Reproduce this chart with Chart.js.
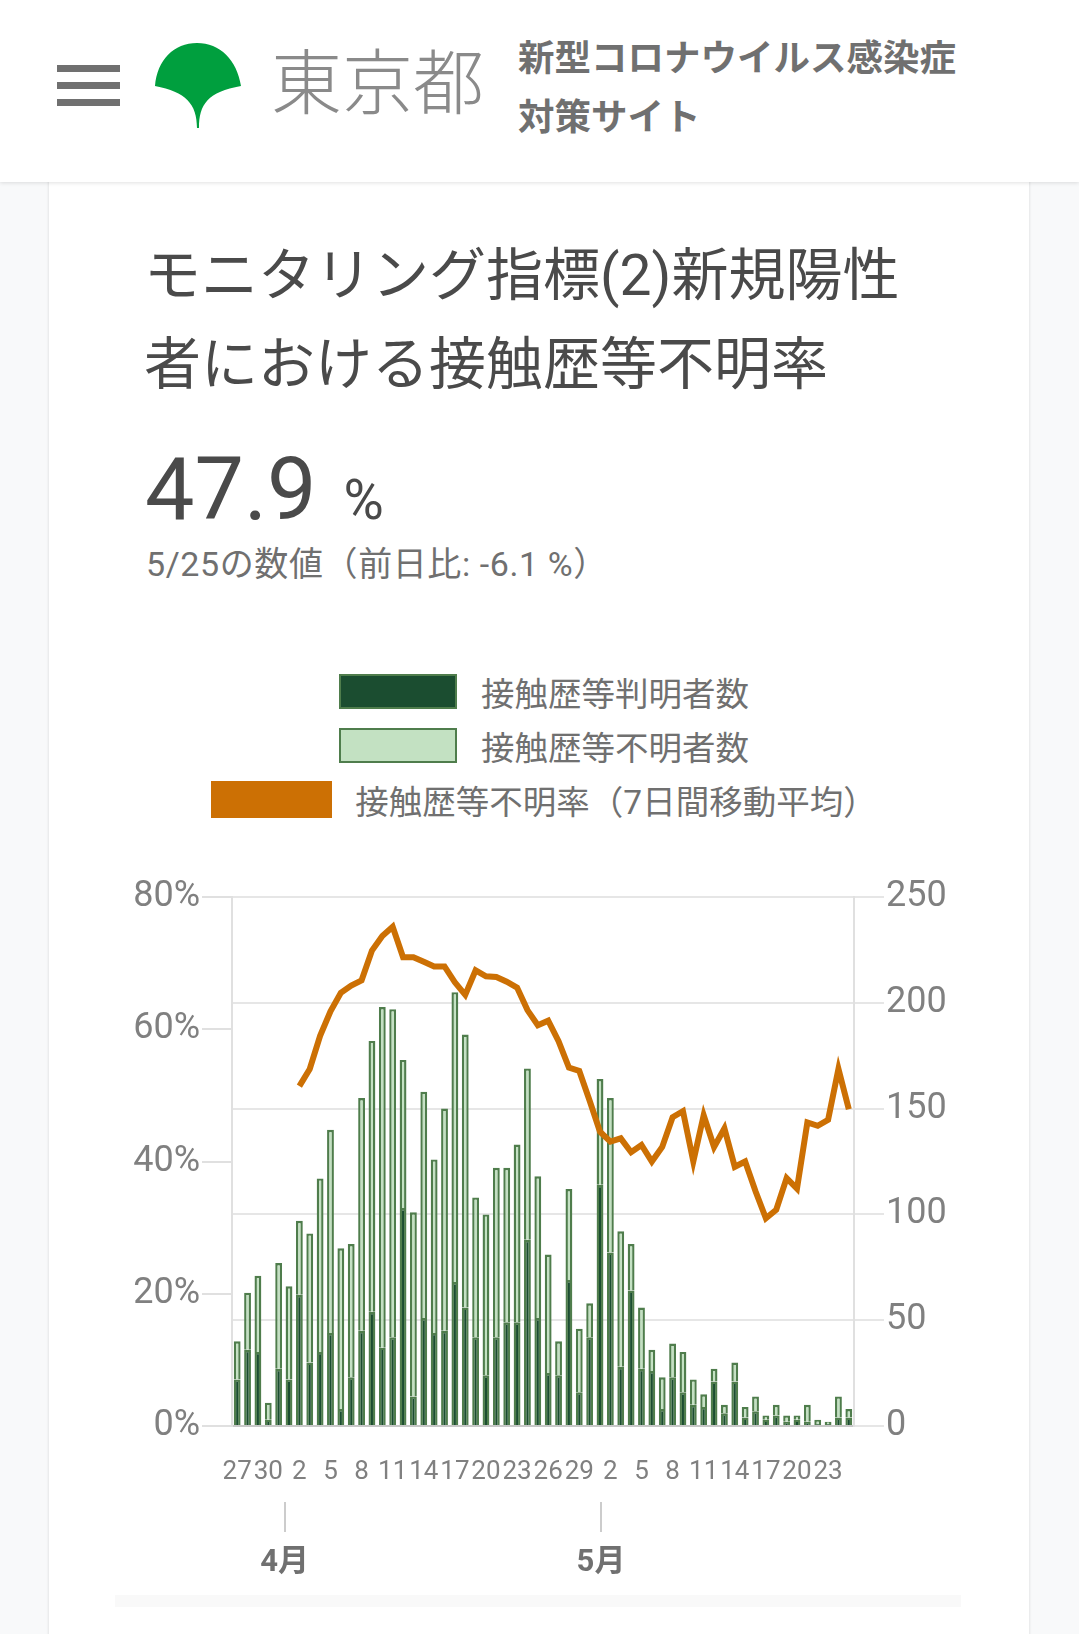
<!DOCTYPE html>
<html lang="ja">
<head>
<meta charset="UTF-8">
<meta name="viewport" content="width=device-width, initial-scale=1.0">
<title>モニタリング指標(2)新規陽性者における接触歴等不明率</title>
<script src="https://cdn.jsdelivr.net/npm/chart.js"></script>
<style>
    html, body { margin: 0; padding: 0; }
    body {
        width: 1079px; height: 1634px; position: relative; overflow: hidden;
        background: #f8f9fa;
        font-family: Roboto, 'Noto Sans CJK JP', sans-serif;
    }
    .header {
        position: absolute; left: 0; top: 0; width: 1079px; height: 182px;
        background: #fff; box-shadow: 0 1px 4px rgba(0,0,0,0.12); z-index: 2;
    }
    .menu span { position: absolute; left: 57px; width: 63px; height: 7px; background: #707070; }
    .logo { position: absolute; left: 150px; top: 38px; }
    .tokyo {
        position: absolute; left: 271px; top: 42px; font-size: 71px; line-height: 70px;
        font-weight: 300; color: #8a8a8a; font-family: 'Noto Sans CJK JP', sans-serif;
        white-space: nowrap;
    }
    .site {
        position: absolute; left: 518px; top: 27px; font-size: 36.5px; line-height: 58.5px;
        font-weight: bold; color: #707070; font-family: 'Noto Sans CJK JP', sans-serif;
        white-space: nowrap;
    }
    .card {
        position: absolute; left: 49px; top: 120px; width: 980px; height: 1600px;
        background: #fff; box-shadow: 0 0 3px rgba(0,0,0,0.14);
    }
    .title {
        position: absolute; left: 144px; top: 231px; font-size: 57px; line-height: 89px;
        color: #4a4a4a; white-space: nowrap;
    }
    .value {
        position: absolute; left: 145px; top: 445px; font-size: 88px; line-height: 88px;
        color: #4a4a4a; white-space: nowrap;
    }
    .value .unit { font-size: 55px; line-height: 1; margin-left: 27px; }
    .sub {
        position: absolute; left: 146px; top: 544px; font-size: 34px; line-height: 40px;
        letter-spacing: 0.6px; color: #707070; white-space: nowrap;
    }
    .legend { position: absolute; left: 54px; top: 664px; width: 980px; }
    .legend .row {
        height: 54px; display: flex; align-items: center; justify-content: center;
        font-size: 33.5px; color: #707070; white-space: nowrap;
    }
    .legend .box { box-sizing: border-box; width: 118px; height: 35px; margin-right: 24px; }
    .legend .row.line .box { width: 121px; height: 37px; margin-right: 23px; }
    .chart-box { position: absolute; left: 110px; top: 860px; width: 860px; height: 730px; }
    .band { position: absolute; left: 115px; top: 1595px; width: 846px; height: 12px; background: #f9f9f9; }
</style>
</head>
<body>
    <div class="header">
        <div class="menu">
            <span style="top:65px"></span>
            <span style="top:82px"></span>
            <span style="top:99px"></span>
        </div>
        <svg class="logo" width="100" height="100" viewBox="0 0 100 100">
            <path d="M47,90 C47,66 36,54 5,48 C7,22 24,5 47,5 C70,5 87,22 91,48 C58,54 49,66 49,90 Z" fill="#009f3e"/>
        </svg>
        <div class="tokyo">東京都</div>
        <div class="site">新型コロナウイルス感染症<br>対策サイト</div>
    </div>

    <div class="card"></div>
    <div class="title">モニタリング指標(2)新規陽性<br>者における接触歴等不明率</div>
    <div class="value">47.9<span class="unit">%</span></div>
    <div class="sub">5/25の数値（前日比: -6.1 %）</div>

    <div class="legend" id="legend"></div>

    <div class="chart-box">
        <canvas id="rateChart"></canvas>
    </div>
    <div class="band"></div>

    <script>
        // categories: 3/27 - 5/25
        const dateLabels = [
            '3/27', '3/28', '3/29', '3/30', '3/31',
            '4/1', '4/2', '4/3', '4/4', '4/5', '4/6', '4/7', '4/8', '4/9', '4/10',
            '4/11', '4/12', '4/13', '4/14', '4/15', '4/16', '4/17', '4/18', '4/19', '4/20',
            '4/21', '4/22', '4/23', '4/24', '4/25', '4/26', '4/27', '4/28', '4/29', '4/30',
            '5/1', '5/2', '5/3', '5/4', '5/5', '5/6', '5/7', '5/8', '5/9', '5/10',
            '5/11', '5/12', '5/13', '5/14', '5/15', '5/16', '5/17', '5/18', '5/19', '5/20',
            '5/21', '5/22', '5/23', '5/24', '5/25'
        ];

        // 接触歴等判明者数
        const knownCounts = [
            22, 36, 35, 3, 27, 22, 62, 30, 35, 44,
            8, 23, 45, 54, 37, 42, 103, 14, 51, 44,
            45, 68, 56, 42, 24, 42, 49, 49, 88, 51,
            25, 24, 69, 16, 42, 114, 82, 28, 64, 27,
            26, 8, 23, 16, 10, 9, 21, 6, 21, 4,
            7, 3, 5, 2, 3, 2, 1, 1, 4, 4
        ];

        // 接触歴等不明者数
        const unknownCounts = [
            18, 27, 36, 8, 50, 44, 35, 61, 82, 96,
            76, 63, 110, 128, 161, 155, 70, 87, 107, 82,
            105, 137, 129, 66, 76, 80, 73, 84, 81, 67,
            56, 16, 43, 30, 16, 50, 73, 64, 22, 29,
            10, 15, 16, 19, 12, 6, 6, 4, 9, 5,
            7, 2, 5, 3, 2, 8, 2, 1, 10, 4
        ];

        // 接触歴等不明率（7日間移動平均） %
        const unknownRate = [
            null, null, null, null, null, null, 51.4, 54.0, 59.0, 62.7,
            65.5, 66.6, 67.4, 71.9, 74.1, 75.5, 70.9, 70.9, 70.2, 69.5,
            69.5, 67.1, 65.2, 68.9, 68.0, 67.9, 67.2, 66.3, 62.9, 60.6,
            61.3, 58.2, 54.2, 53.7, 49.2, 44.5, 43.0, 43.5, 41.4, 42.5,
            40.0, 42.2, 46.7, 47.6, 40.0, 47.0, 42.2, 45.0, 39.2, 40.0,
            35.5, 31.4, 32.7, 37.5, 35.9, 45.9, 45.4, 46.3, 54.0, 47.9
        ];

        const seriesNames = ['接触歴等判明者数', '接触歴等不明者数', '接触歴等不明率（7日間移動平均）'];
        const monthTicks = [5, 35];
        const monthLabels = ['4月', '5月'];

        Chart.defaults.font.family = "Roboto, 'Noto Sans CJK JP', sans-serif";
        Chart.defaults.color = '#808080';

        const ctx = document.getElementById('rateChart').getContext('2d');
        const chart = new Chart(ctx, {
            type: 'bar',
            data: {
                labels: dateLabels,
                datasets: [
                    {
                        type: 'line',
                        label: seriesNames[2],
                        data: unknownRate,
                        yAxisID: 'y',
                        borderColor: '#cc7004',
                        backgroundColor: '#cc7004',
                        borderWidth: 6,
                        pointRadius: 0,
                        tension: 0,
                        fill: false,
                        order: 0
                    },
                    {
                        label: seriesNames[0],
                        data: knownCounts,
                        yAxisID: 'y1',
                        backgroundColor: '#1b4d30',
                        borderColor: '#4f7d4c',
                        borderWidth: 2.4,
                        stack: 'cases',
                        order: 1
                    },
                    {
                        label: seriesNames[1],
                        data: unknownCounts,
                        yAxisID: 'y1',
                        backgroundColor: '#c3e1c2',
                        borderColor: '#4f7d4c',
                        borderWidth: 2.4,
                        stack: 'cases',
                        order: 1
                    }
                ]
            },
            options: {
                responsive: true,
                maintainAspectRatio: false,
                animation: false,
                layout: { padding: { top: 37, left: 0, right: 0, bottom: 0 } },
                datasets: { bar: { barPercentage: 0.66, categoryPercentage: 1 } },
                plugins: {
                    legend: { display: false },
                    tooltip: { enabled: false }
                },
                scales: {
                    x: {
                        stacked: true,
                        weight: 0,
                        grid: { display: false, drawTicks: false, tickLength: 0 },
                        border: { display: true, color: '#c8c8c8', width: 2 },
                        ticks: {
                            autoSkip: false,
                            maxRotation: 0,
                            padding: 31,
                            font: { size: 26 },
                            color: '#808080',
                            callback: (v, i) => i % 3 === 0 ? dateLabels[i].split('/')[1] : ''
                        },
                        afterFit: s => { s.height = 76; }
                    },
                    x2: {
                        type: 'linear',
                        position: 'bottom',
                        weight: 1,
                        offset: false,
                        min: 0,
                        max: dateLabels.length - 1,
                        grid: { offset: false, drawOnChartArea: false, tickLength: 30, color: '#cccccc', lineWidth: 2 },
                        border: { display: false },
                        afterBuildTicks: s => { s.ticks = monthTicks.map(v => ({ value: v })); },
                        ticks: {
                            padding: 13,
                            font: { size: 31, weight: 'bold' },
                            color: '#707070',
                            callback: v => monthLabels[monthTicks.indexOf(v)]
                        },
                        afterFit: s => { s.height = 88; }
                    },
                    y: {
                        position: 'left',
                        min: 0,
                        max: 80,
                        grid: { drawOnChartArea: false, tickLength: 30, color: '#e0e0e0', lineWidth: 2 },
                        border: { color: '#e0e0e0', width: 2 },
                        ticks: {
                            stepSize: 20,
                            padding: 2,
                            font: { size: 36 },
                            color: '#808080',
                            callback: v => v + '%'
                        },
                        afterFit: s => { s.width = 122; }
                    },
                    y1: {
                        position: 'right',
                        stacked: true,
                        min: 0,
                        max: 250,
                        grid: { tickLength: 30, color: '#e6e6e6', lineWidth: 2 },
                        border: { color: '#e0e0e0', width: 2 },
                        ticks: { stepSize: 50, padding: 2, font: { size: 36 }, color: '#808080' },
                        afterFit: s => { s.width = 116; }
                    }
                }
            }
        });

        // legend rows, one per series (bars first, then the line)
        const legendOrder = [1, 2, 0];
        const legendEl = document.getElementById('legend');
        legendOrder.forEach(idx => {
            const ds = chart.data.datasets[idx];
            const row = document.createElement('div');
            row.className = 'row' + (ds.type === 'line' ? ' line' : '');
            const box = document.createElement('span');
            box.className = 'box';
            box.style.background = ds.backgroundColor;
            if (ds.type !== 'line') box.style.border = '2px solid ' + ds.borderColor;
            const txt = document.createElement('span');
            txt.textContent = ds.label;
            row.appendChild(box);
            row.appendChild(txt);
            legendEl.appendChild(row);
        });
    </script>
</body>
</html>
